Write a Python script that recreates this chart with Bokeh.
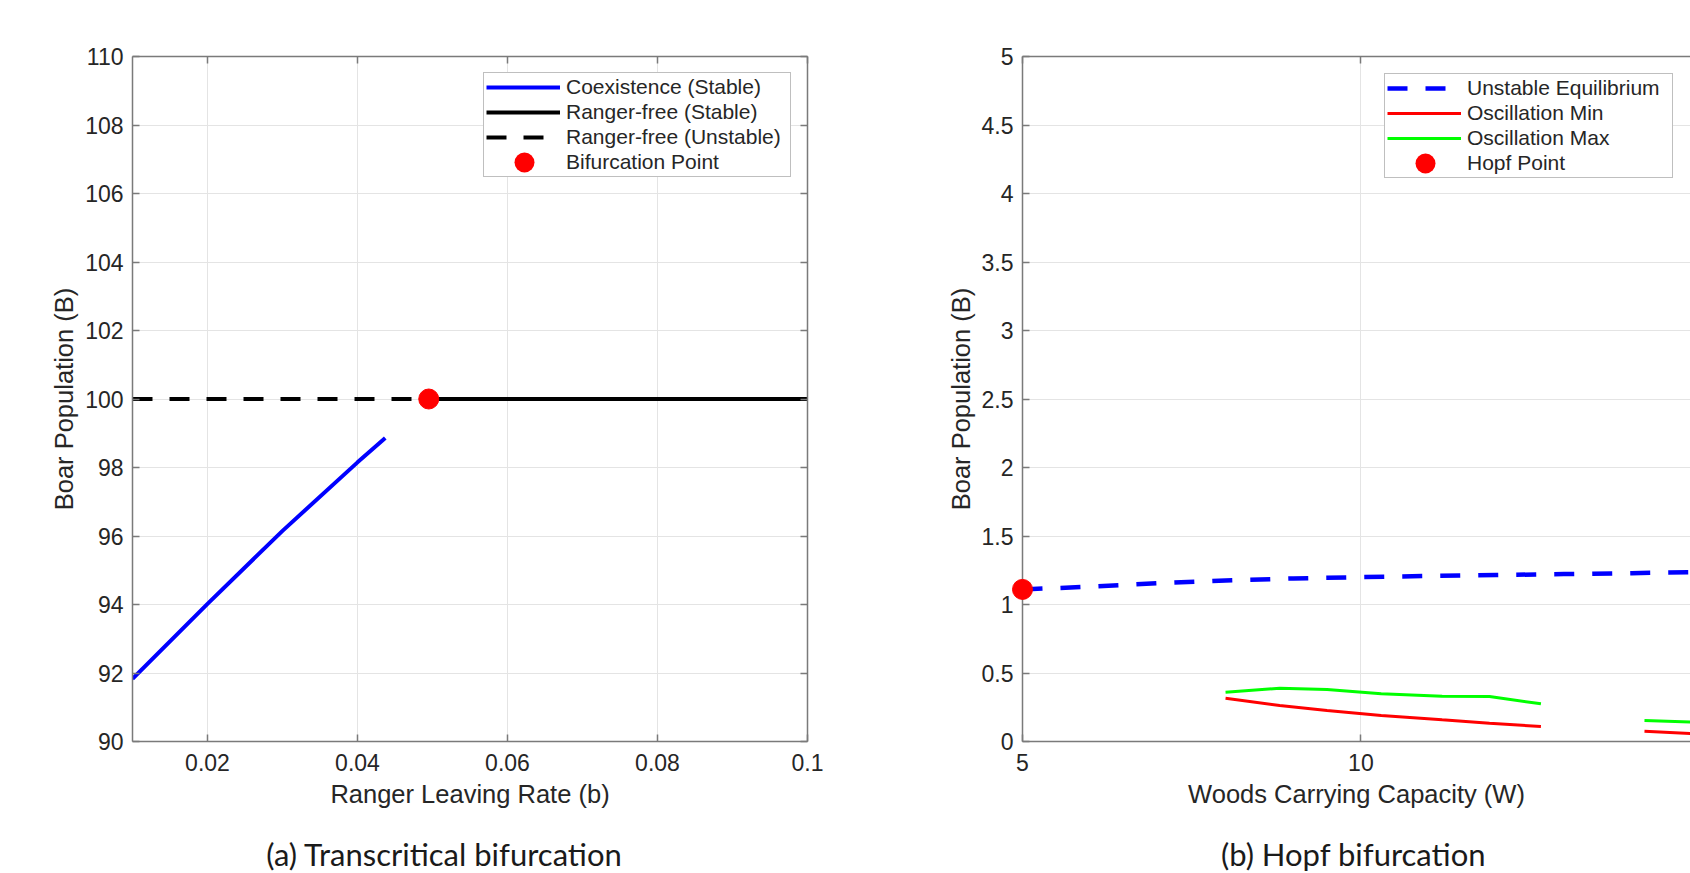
from bokeh.plotting import figure
from bokeh.layouts import row, column
from bokeh.models import Range1d, FixedTicker, LinearAxis, Legend, LegendItem
from bokeh.core.properties import value
from bokeh.embed import file_html
from bokeh.resources import INLINE

# ---------------- data: (a) transcritical bifurcation ----------------
coex_b = [0.01, 0.02, 0.03, 0.04, 0.0437]
coex_B = [91.83, 94.02, 96.15, 98.15, 98.86]
rf_unstable_b = [0.01, 0.0495]
rf_unstable_B = [100, 100]
rf_stable_b = [0.0495, 0.1]
rf_stable_B = [100, 100]
bif_b = [0.0495]
bif_B = [100]

a_xticks = [0.02, 0.04, 0.06, 0.08, 0.1]
a_xlabels = ["0.02", "0.04", "0.06", "0.08", "0.1"]
a_yticks = [90, 92, 94, 96, 98, 100, 102, 104, 106, 108, 110]
a_ylabels = ["90", "92", "94", "96", "98", "100", "102", "104", "106", "108", "110"]

# ---------------- data: (b) Hopf bifurcation ----------------
eq_W = [5, 6, 7, 8, 9, 10, 11, 12, 13, 14, 15]
eq_B = [1.11, 1.13, 1.155, 1.175, 1.19, 1.20, 1.208, 1.215, 1.222, 1.229, 1.236]
osc1_W = [8.0, 8.8, 9.5, 10.3, 11.2, 11.9, 12.66]
osc1_max = [0.36, 0.389, 0.379, 0.348, 0.331, 0.328, 0.275]
osc1_min = [0.316, 0.263, 0.226, 0.190, 0.158, 0.134, 0.109]
osc2_W = [14.19, 14.87, 15.0]
osc2_max = [0.153, 0.143, 0.141]
osc2_min = [0.075, 0.059, 0.057]
hopf_W = [5]
hopf_B = [1.11]

b_xticks = [5, 10, 15]
b_xlabels = ["5", "10", "15"]
b_yticks = [0, 0.5, 1, 1.5, 2, 2.5, 3, 3.5, 4, 4.5, 5]
b_ylabels = ["0", "0.5", "1", "1.5", "2", "2.5", "3", "3.5", "4", "4.5", "5"]

captions = ["(a) Transcritical bifurcation", "(b) Hopf bifurcation"]

AX = "#7a7a7a"
TXT = "#262626"
GRID = "#e4e4e4"
FONT = "Liberation Sans"


def make_fig(width, minl, minr, xr, yr, xticks, xlabels, yticks, ylabels,
             xlabel, right_axis):
    p = figure(width=width, height=833, x_range=xr, y_range=yr,
               output_backend="svg", toolbar_location=None,
               min_border_left=minl, min_border_right=minr,
               min_border_top=56, min_border_bottom=92)
    p.outline_line_color = None
    p.background_fill_color = "white"
    p.border_fill_color = "white"

    for ax, ticks, labels in ((p.xaxis[0], xticks, xlabels), (p.yaxis[0], yticks, ylabels)):
        ax.ticker = FixedTicker(ticks=ticks)
        ax.major_label_overrides = {t: s for t, s in zip(ticks, labels)}
        ax.axis_line_color = AX
        ax.axis_line_width = 1.5
        ax.major_tick_line_color = AX
        ax.major_tick_line_width = 1.5
        ax.major_tick_in = 7
        ax.major_tick_out = 0
        ax.minor_tick_line_color = None
        ax.major_label_text_font = FONT
        ax.major_label_text_font_size = "23px"
        ax.major_label_text_color = TXT
        ax.major_label_standoff = 9
        ax.axis_label_text_font = FONT
        ax.axis_label_text_font_size = "25.5px"
        ax.axis_label_text_font_style = "normal"
        ax.axis_label_text_color = TXT
        ax.axis_label_standoff = 4
    p.xaxis.major_label_standoff = 12
    p.xaxis.axis_label_standoff = 6
    p.xaxis.axis_label = xlabel
    p.yaxis.axis_label = "Boar Population (B)"

    sides = [("above", xticks)]
    if right_axis:
        sides.append(("right", yticks))
    for side, ticks in sides:
        ax = LinearAxis(ticker=FixedTicker(ticks=ticks),
                        major_label_text_font_size="1px",
                        major_label_text_color=None,
                        axis_line_color=AX, axis_line_width=1.5,
                        major_tick_line_color=AX, major_tick_line_width=1.5,
                        major_tick_in=7, major_tick_out=0,
                        minor_tick_line_color=None, major_label_standoff=0)
        p.add_layout(ax, side)

    p.grid.grid_line_color = GRID
    p.grid.grid_line_width = 1
    return p


def make_caption(width, text, x_off):
    c = figure(width=width, height=40, x_range=Range1d(0, 1), y_range=Range1d(0, 1),
               x_axis_type=None, y_axis_type=None, output_backend="svg",
               toolbar_location=None, min_border=0)
    c.outline_line_color = None
    c.grid.visible = False
    c.text(x=[0.5], y=[0.5], text=[text], x_offset=x_off,
           text_align="center", text_baseline="middle",
           text_font=value("Lato"), text_font_size=value("31px"), text_color="#1a1a1a")
    return c


def style_legend(lg, margin, label_width):
    lg.location = "top_right"
    lg.margin = margin
    lg.label_text_font = FONT
    lg.label_text_font_size = "21px"
    lg.label_text_color = TXT
    lg.border_line_color = "#7f7f7f"
    lg.border_line_width = 1.5
    lg.background_fill_color = "white"
    lg.background_fill_alpha = 1
    lg.padding = 2
    lg.spacing = 1
    lg.glyph_width = 74
    lg.glyph_height = 24
    lg.label_height = 24
    lg.label_standoff = 6
    lg.label_width = label_width


def legend_dot(p, xs, ys):
    # zero-length path: its round-capped dash is what the legend shows as the marker
    return p.line([xs[0], xs[0]], [ys[0], ys[0]], line_color="#ff0000", line_width=20,
                  line_cap="round", line_dash="0 1000", line_dash_offset=962)


# ---------------- figure (a) ----------------
pa = make_fig(850, 132, 43, Range1d(0.01, 0.1), Range1d(90, 110),
              a_xticks, a_xlabels, a_yticks, a_ylabels,
              "Ranger Leaving Rate (b)", True)

ra_uns = pa.line(rf_unstable_b, rf_unstable_B, line_color="black", line_width=4, line_dash="20 17")
ra_st = pa.line(rf_stable_b, rf_stable_B, line_color="black", line_width=4)
ra_co = pa.line(coex_b, coex_B, line_color="#0000ff", line_width=4)
pa.scatter(bif_b, bif_B, size=20, marker="circle", fill_color="#ff0000", line_color="#ff0000")
ra_pt = legend_dot(pa, bif_b, bif_B)

lga = Legend(items=[LegendItem(label="Coexistence (Stable)", renderers=[ra_co]),
                    LegendItem(label="Ranger-free (Stable)", renderers=[ra_st]),
                    LegendItem(label="Ranger-free (Unstable)", renderers=[ra_uns]),
                    LegendItem(label="Bifurcation Point", renderers=[ra_pt])])
style_legend(lga, 16, 222)
pa.add_layout(lga)

# ---------------- figure (b) ----------------
pb = make_fig(840, 172, 0, Range1d(5, 14.87), Range1d(0, 5),
              b_xticks, b_xlabels, b_yticks, b_ylabels,
              "Woods Carrying Capacity (W)", False)

rb_eq = pb.line(eq_W, eq_B, line_color="#0000ff", line_width=4.5, line_dash="20 18")
rb_min = pb.line(osc1_W, osc1_min, line_color="#ff0000", line_width=3)
pb.line(osc2_W, osc2_min, line_color="#ff0000", line_width=3)
rb_max = pb.line(osc1_W, osc1_max, line_color="#00ff00", line_width=3)
pb.line(osc2_W, osc2_max, line_color="#00ff00", line_width=3)
pb.scatter(hopf_W, hopf_B, size=20, marker="circle", fill_color="#ff0000",
           line_color="#ff0000", level="overlay")
rb_pt = legend_dot(pb, hopf_W, hopf_B)

lgb = Legend(items=[LegendItem(label="Unstable Equilibrium", renderers=[rb_eq]),
                    LegendItem(label="Oscillation Min", renderers=[rb_min]),
                    LegendItem(label="Oscillation Max", renderers=[rb_max]),
                    LegendItem(label="Hopf Point", renderers=[rb_pt])])
style_legend(lgb, 17, 203)
pb.add_layout(lgb)

ca = make_caption(850, captions[0], 19)
cb = make_caption(840, captions[1], 83)

layout = column(row(pa, pb), row(ca, cb))
open("out.html", "w").write(file_html(layout, INLINE))
